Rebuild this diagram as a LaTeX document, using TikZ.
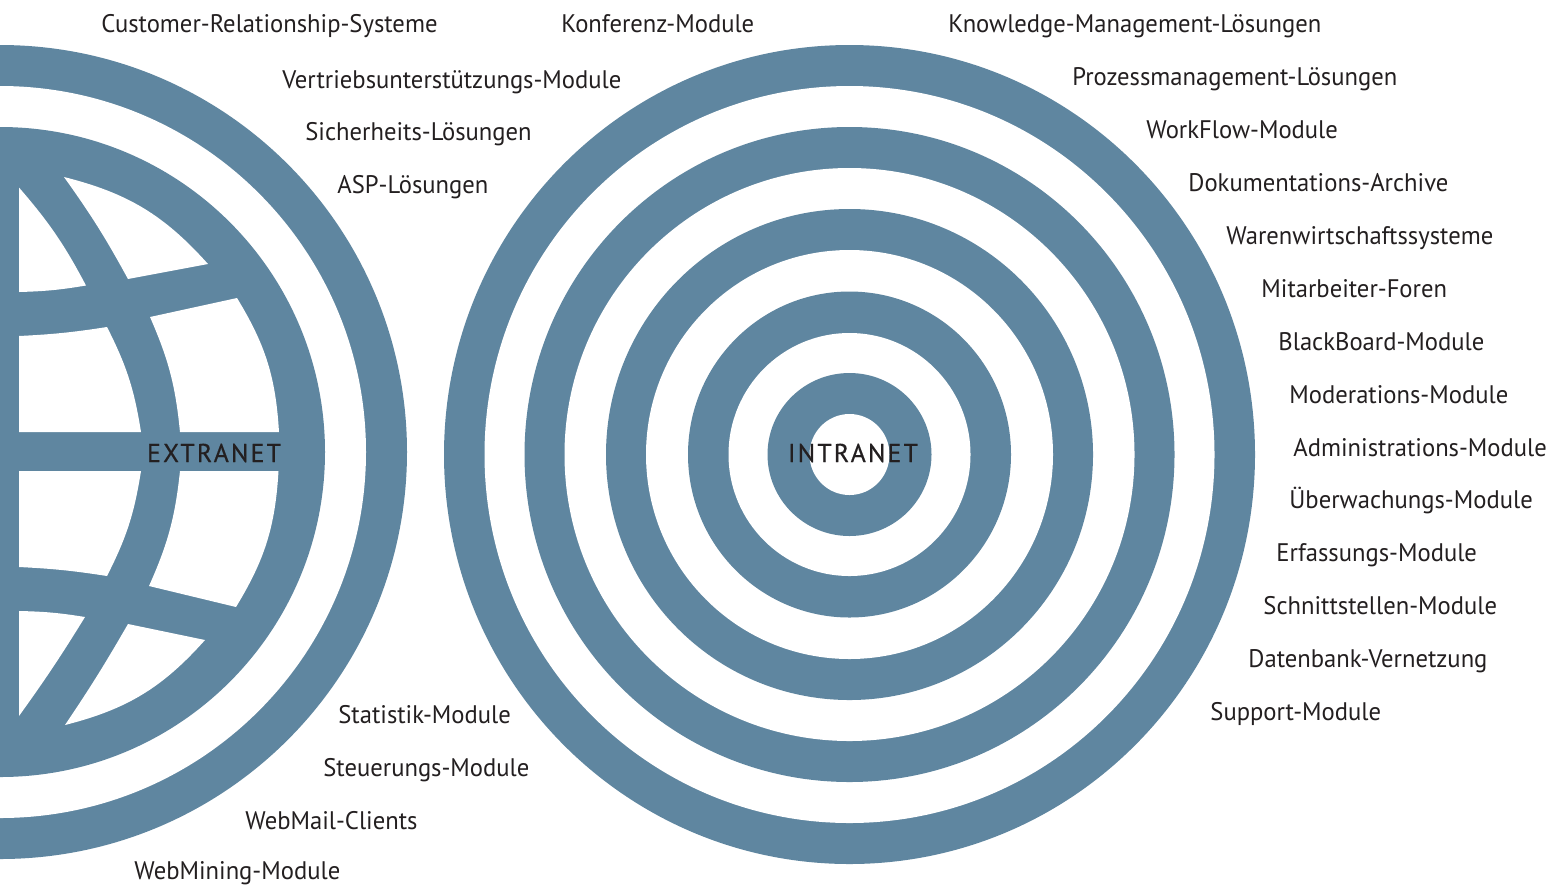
\documentclass[tikz,border=0pt]{standalone}
\usepackage{fontspec}
\setmainfont[FakeStretch=0.97]{PT Sans}
\definecolor{ringblue}{HTML}{5F86A0}
\definecolor{inkdark}{HTML}{231F20}
\newfontfamily\spaced[LetterSpace=8.5,FakeBold=0.5]{PT Sans}
\tikzset{
  ringfill/.style={fill=ringblue,draw=none},
  gap/.style={fill=white,draw=none},
  lab/.style={anchor=base west,inner sep=0pt,text=inkdark,font=\fontsize{12.7pt}{14pt}\selectfont},
  centrelab/.style={anchor=base,inner sep=0pt,text=inkdark,font=\fontsize{12.9pt}{14pt}\spaced\selectfont},
}
\begin{document}
\begin{tikzpicture}[x=0.5pt,y=-0.5pt]
\useasboundingbox[fill=white] (0,0) rectangle (1561,885);
% left globe
\begin{scope}
\clip (0,0) rectangle (1561,885);
\fill[ringfill] (0,452) circle[radius=407];
\fill[gap] (0,452) circle[radius=366];
\fill[ringfill] (0,452) circle[radius=325];
\end{scope}
\fill[gap] (19,187.5) to[bend left=6.5] (86,285.5) to[bend left=4] (19,292) -- cycle;
\fill[gap] (64,177) to[bend left=17] (208,264) -- (128,279) to[bend right=3.5] cycle;
\fill[gap] (19,336) to[bend right=3] (107,327) to[bend left=9] (141,432) -- (19,432) -- cycle;
\fill[gap] (150,317) -- (237,298) to[bend left=14] (279,432) -- (180,432) to[bend right=9] cycle;
\fill[gap] (19,471) -- (141,471) to[bend left=9] (107,576) to[bend right=3] (19,567) -- cycle;
\fill[gap] (180,471) -- (278.5,471) to[bend left=14] (236,607) -- (149,586) to[bend right=9] cycle;
\fill[gap] (19,611) to[bend left=4] (85,617) to[bend left=2] (19,716) -- cycle;
\fill[gap] (128,624) -- (205,640) to[bend left=17] (65,725) to[bend right=2] cycle;
% right target
\fill[ringfill] (849.5,454.5) ellipse[x radius=405.5,y radius=409.5];
\fill[gap] (849.5,454.5) ellipse[x radius=365,y radius=368.5];
\fill[ringfill] (849.5,454.5) ellipse[x radius=325,y radius=327.5];
\fill[gap] (849.5,454.5) ellipse[x radius=285,y radius=286.5];
\fill[ringfill] (849.5,454.5) ellipse[x radius=243.5,y radius=245.5];
\fill[gap] (849.5,454.5) ellipse[x radius=203.5,y radius=204.5];
\fill[ringfill] (849.5,454.5) ellipse[x radius=161.5,y radius=163];
\fill[gap] (849.5,454.5) ellipse[x radius=121,y radius=121.5];
\fill[ringfill] (849.5,454.5) ellipse[x radius=82,y radius=81.5];
\fill[gap] (849.5,454.5) ellipse[x radius=40,y radius=40.5];
% labels
\node[centrelab] (extranet) at (214,462) {EXTRANET};
\node[centrelab] (intranet) at (853,462) {INTRANET};
\node[lab] (l1) at (101,32) {Customer-Relationship-Systeme};
\node[lab] (l2) at (282,88) {Vertriebsunterstützungs-Module};
\node[lab] (l3) at (305,140) {Sicherheits-Lösungen};
\node[lab] (l4) at (337,193) {ASP-Lösungen};
\node[lab] (l5) at (561,32) {Konferenz-Module};
\node[lab] (l6) at (948,32) {Knowledge-Management-Lösungen};
\node[lab] (l7) at (1072,85) {Prozessmanagement-Lösungen};
\node[lab] (l8) at (1146,138) {WorkFlow-Module};
\node[lab] (l9) at (1188,191) {Dokumentations-Archive};
\node[lab] (l10) at (1226,244) {Warenwirtschaftssysteme};
\node[lab] (l11) at (1261,297) {Mitarbeiter-Foren};
\node[lab] (l12) at (1278,350) {BlackBoard-Module};
\node[lab] (l13) at (1289,403) {Moderations-Module};
\node[lab] (l14) at (1293,456) {Administrations-Module};
\node[lab] (l15) at (1289,508) {Überwachungs-Module};
\node[lab] (l16) at (1276,561) {Erfassungs-Module};
\node[lab] (l17) at (1263,614) {Schnittstellen-Module};
\node[lab] (l18) at (1248,667) {Datenbank-Vernetzung};
\node[lab] (l19) at (1210,720) {Support-Module};
\node[lab] (l20) at (338,723) {Statistik-Module};
\node[lab] (l21) at (323,776) {Steuerungs-Module};
\node[lab] (l22) at (245,829) {WebMail-Clients};
\node[lab] (l23) at (134,879) {WebMining-Module};
\end{tikzpicture}
\end{document}
